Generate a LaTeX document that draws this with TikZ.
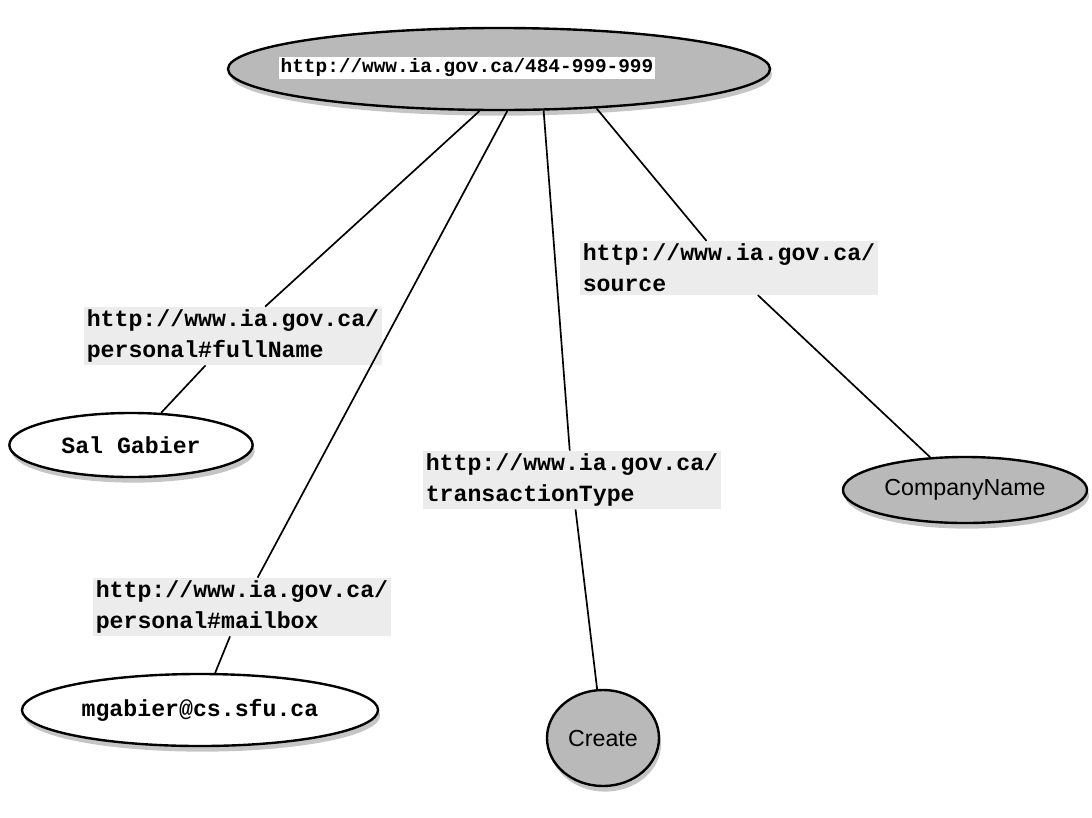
\documentclass[tikz,border=0pt]{standalone}
\usepackage{fontspec}
\setmonofont{Liberation Mono}
\setsansfont{Liberation Sans}
\usetikzlibrary{shapes, shadows}
\tikzset{
  uri/.style={fill=gray!15, inner sep=2pt, align=left, font=\fontsize{16.5}{22}\selectfont\ttfamily\bfseries},
  resnode/.style={ellipse, draw, line width=1.7pt, fill=gray!55, inner sep=1pt,
    drop shadow={shadow xshift=1.5pt, shadow yshift=-4pt, fill=gray!90},
    font=\fontsize{16.5}{18}\selectfont\sffamily},
  litnode/.style={ellipse, draw, line width=1.7pt, fill=white, inner sep=0pt,
    drop shadow={shadow xshift=1.5pt, shadow yshift=-4pt, fill=gray!90},
    font=\fontsize{16.5}{20}\selectfont\ttfamily\bfseries},
  link/.style={line width=1.2pt}
}

\begin{document}
\begin{tikzpicture}[x=0.025cm, y=-0.025cm]
    \useasboundingbox (0,0) rectangle (1092,817);

    % Nodes
    \node (root) at (499,69) [resnode, minimum width=13.55cm, minimum height=2.05cm] {};
    \node (root_url) at (467,68) [fill=white, inner sep=1.5pt, font=\fontsize{13.8}{16}\selectfont\ttfamily\bfseries] {http://www.ia.gov.ca/484-999-999};

    \node (full_name) at (233,336) [uri] {http://www.ia.gov.ca/\\personal\#fullName};
    \node (sal) at (131,445) [litnode, minimum width=6.08cm, minimum height=1.6cm] {Sal Gabier};

    \node (mailbox) at (242,607) [uri] {http://www.ia.gov.ca/\\personal\#mailbox};
    \node (mgabier) at (200,710) [litnode, minimum width=8.9cm, minimum height=1.8cm] {mgabier@cs.sfu.ca};

    \node (trans_type) at (572,480) [uri] {http://www.ia.gov.ca/\\transactionType};
    \node (create) at (603,738) [resnode, minimum width=2.8cm, minimum height=2.4cm] {Create};

    \node (source) at (729,268) [uri] {http://www.ia.gov.ca/\\source};
    \node (company) at (965,490) [resnode, minimum width=6.1cm, minimum height=1.65cm] {CompanyName};

    % Edges
    \draw[link] (root.-115) -- (full_name);
    \draw[link] (full_name) -- (sal);

    \draw[link] (root.-79) -- (mailbox);
    \draw[link] (mailbox) -- (mgabier);

    \draw[link] (root.-43) -- (trans_type);
    \draw[link] (trans_type) -- (create);

    \draw[link] (root.-22) -- (source);
    \draw[link] (source) -- (company);

\end{tikzpicture}
\end{document}
